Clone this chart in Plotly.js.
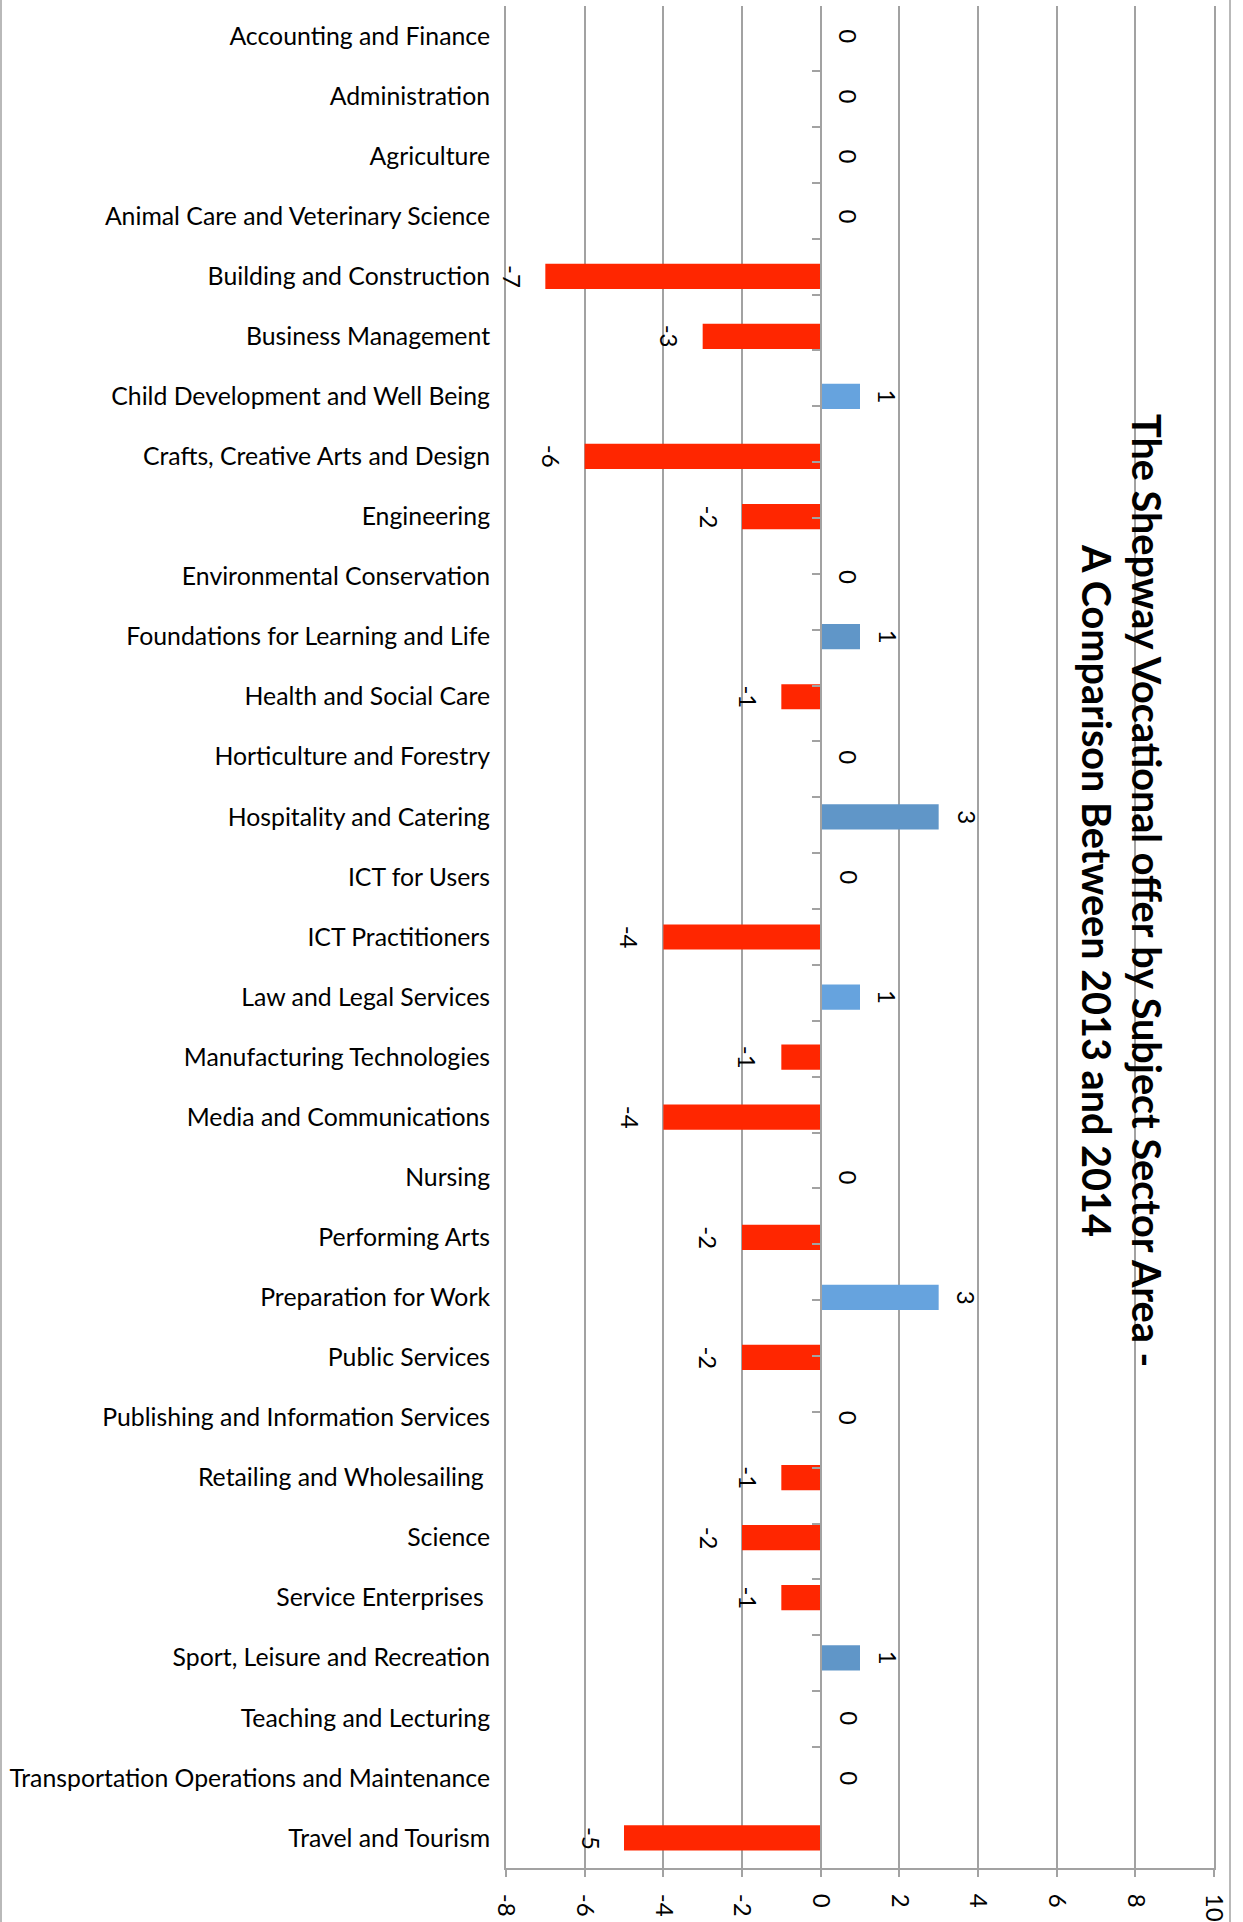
<!DOCTYPE html>
<html>
<head>
<meta charset="utf-8">
<script src="https://cdn.plot.ly/plotly-3.0.1.min.js"></script>
<style>
html,body{margin:0;padding:0;background:#fff;}
#chart{width:1243px;height:1922px;}
</style>
</head>
<body>
<div id="chart"></div>
<script>
// ---- data ----
const categories = [
  "Accounting and Finance",
  "Administration",
  "Agriculture",
  "Animal Care and Veterinary Science",
  "Building and Construction",
  "Business Management",
  "Child Development and Well Being",
  "Crafts, Creative Arts and Design",
  "Engineering",
  "Environmental Conservation",
  "Foundations for Learning and Life",
  "Health and Social Care",
  "Horticulture and Forestry",
  "Hospitality and Catering",
  "ICT for Users",
  "ICT Practitioners",
  "Law and Legal Services",
  "Manufacturing Technologies",
  "Media and Communications",
  "Nursing",
  "Performing Arts",
  "Preparation for Work",
  "Public Services",
  "Publishing and Information Services",
  "Retailing and Wholesailing\u00a0",
  "Science",
  "Service Enterprises\u00a0",
  "Sport, Leisure and Recreation",
  "Teaching and Lecturing",
  "Transportation Operations and Maintenance",
  "Travel and Tourism"
];
const changeValues = [0,0,0,0,-7,-3,1,-6,-2,0,1,-1,0,3,0,-4,1,-1,-4,0,-2,3,-2,0,-1,-2,-1,1,0,0,-5];
const xTickValues = [-8,-6,-4,-2,0,2,4,6,8,10];
const titleLines = [
  "The Shepway Vocational offer by Subject Sector Area -",
  "A Comparison Between 2013 and 2014"
];

// ---- styles ----
const RED = "#FF2600";
const BLUE_LIGHT = "#66A3DE";
const BLUE_DARK = "#6096C8";
const blueShade = {6:BLUE_LIGHT,10:BLUE_DARK,13:BLUE_DARK,16:BLUE_LIGHT,21:BLUE_LIGHT,27:BLUE_DARK};
const barColors = changeValues.map((v,i)=> v < 0 ? RED : (blueShade[i] || BLUE_LIGHT));
const GRID = "#A2A2A2";
const FONT = "Lato, 'Open Sans', sans-serif";

// fit font sizes to measured text widths of the reference
const cv = document.createElement('canvas').getContext('2d');
function fit(text, weight, target){
  cv.font = weight + " 100px Lato";
  return 100 * target / cv.measureText(text).width;
}
const catSize = fit("Transportation Operations and Maintenance", "normal", 481);
const titleSize = fit(titleLines[0], "bold", 960);
const numSize = 24;

const L = 506, R = 1214, T = 6, B = 1868, W = 1243, H = 1922;
const px2paperX = p => (p - L) / (R - L);
const px2paperY = p => 1 - (p - T) / (B - T);

const traces = [
  {
    type: 'bar', orientation: 'h',
    x: changeValues, y: categories,
    marker: {color: barColors, line: {width: 0}},
    hoverinfo: 'skip', showlegend: false
  },
  {
    type: 'scatter', mode: 'none',
    x: changeValues, y: categories, yaxis: 'y2',
    hoverinfo: 'skip', showlegend: false
  }
];

const annotations = changeValues.map((v,i)=>({
  x: v, y: categories[i], xref: 'x', yref: 'y',
  text: String(v), showarrow: false, textangle: 90,
  xanchor: 'center', yanchor: 'middle',
  xshift: v < 0 ? -33 : 28,
  font: {family: FONT, size: numSize, color: '#000'}
}));

annotations.push({
  xref: 'paper', yref: 'paper', x: px2paperX(1148), y: px2paperY(890),
  text: '<b>' + titleLines[0] + '</b>', showarrow: false, textangle: 90,
  xanchor: 'center', yanchor: 'middle',
  font: {family: FONT, size: titleSize, color: '#000'}
});
annotations.push({
  xref: 'paper', yref: 'paper', x: px2paperX(1098), y: px2paperY(890),
  text: '<b>' + titleLines[1] + '</b>', showarrow: false, textangle: 90,
  xanchor: 'center', yanchor: 'middle',
  font: {family: FONT, size: titleSize, color: '#000'}
});

const layout = {
  width: W, height: H,
  margin: {l: L, r: W - R, t: T, b: H - B, pad: 0},
  paper_bgcolor: '#fff', plot_bgcolor: '#fff',
  bargap: 0.58,
  showlegend: false,
  font: {family: FONT, color: '#000'},
  xaxis: {
    range: [-8, 10], tickmode: 'array', tickvals: xTickValues,
    ticktext: xTickValues.map(String),
    tickangle: 90, ticks: 'outside', ticklen: 7, tickcolor: GRID, tickwidth: 2,
    showline: true, linecolor: GRID, linewidth: 2,
    showgrid: true, gridcolor: GRID, gridwidth: 2,
    zeroline: false, automargin: false, fixedrange: true,
    ticklabelstandoff: 12,
    tickfont: {family: FONT, size: numSize, color: '#000'}
  },
  yaxis: {
    type: 'category', categoryorder: 'array', categoryarray: categories,
    autorange: 'reversed', ticks: '', showline: true, mirror: true,
    linecolor: GRID, linewidth: 2, showgrid: false,
    zeroline: false, automargin: false, fixedrange: true,
    ticklabelstandoff: 9,
    tickfont: {family: FONT, size: catSize, color: '#000'}
  },
  yaxis2: {
    type: 'category', categoryorder: 'array', categoryarray: categories,
    autorange: 'reversed', overlaying: 'y', anchor: 'free',
    position: 8/18, side: 'left',
    ticks: 'outside', ticklen: 8, tickcolor: GRID, tickwidth: 2,
    tickson: 'boundaries',
    showline: true, linecolor: GRID, linewidth: 2,
    showticklabels: false, showgrid: false, zeroline: false, fixedrange: true
  },
  annotations: annotations,
  shapes: [
    {type:'line', xref:'paper', yref:'paper', x0: px2paperX(1), x1: px2paperX(1), y0: -1, y1: 2,
     line:{color: GRID, width: 1.5}},
    {type:'line', xref:'paper', yref:'paper', x0: px2paperX(1230), x1: px2paperX(1230), y0: -1, y1: 2,
     line:{color: GRID, width: 1.5}}
  ]
};

Plotly.newPlot('chart', traces, layout, {staticPlot: true, displayModeBar: false});
</script>
</body>
</html>
